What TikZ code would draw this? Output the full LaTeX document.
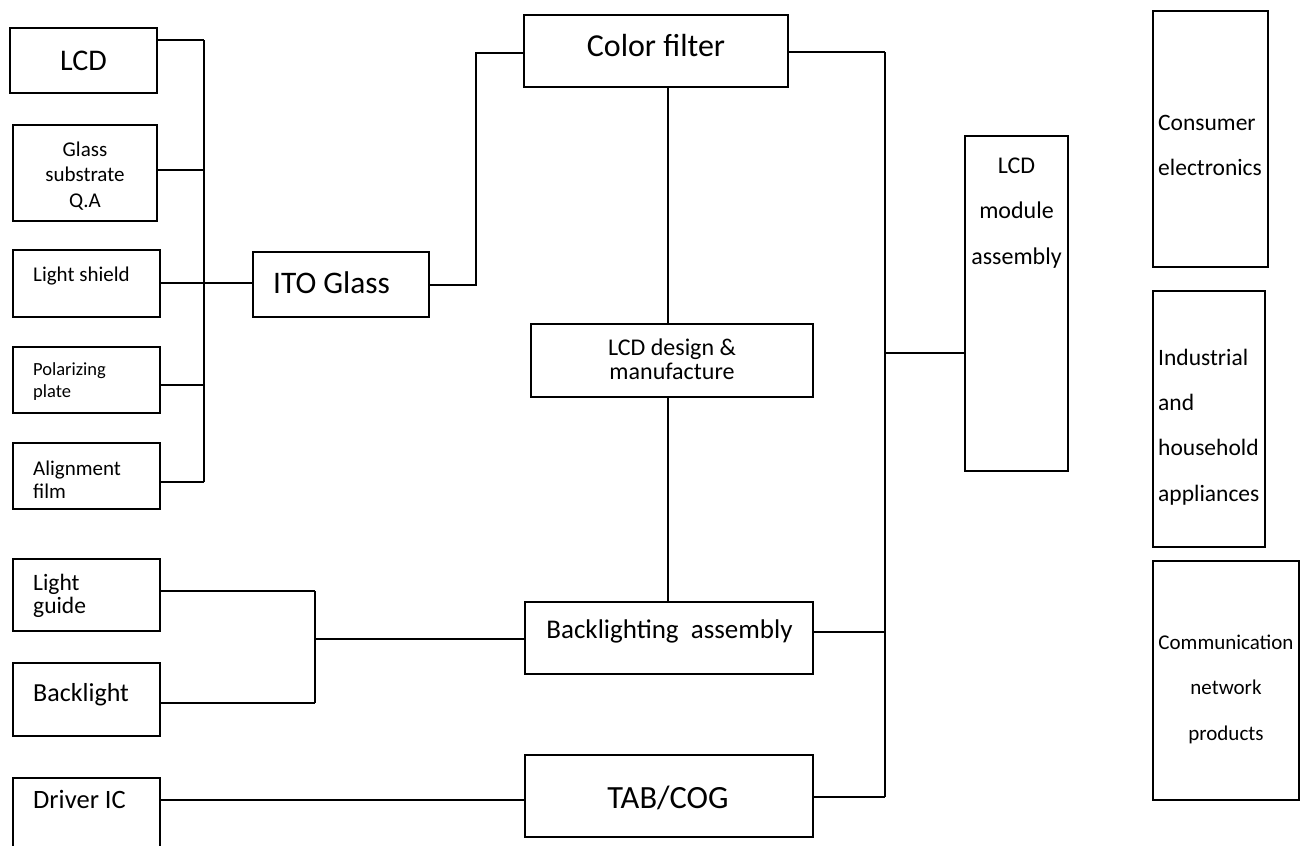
\documentclass[tikz,border=0pt]{standalone}
\usepackage{fontspec}
\setmainfont{Carlito}
\usetikzlibrary{fit}
\begin{document}
\begin{tikzpicture}[x=1pt,y=-1pt,
  box/.style={draw=black, line width=1.6pt, inner sep=0pt, rectangle},
  wire/.style={draw=black, line width=1.6pt},
  thick wire/.style={draw=black, line width=2.3pt},
  txt/.style={inner sep=0pt, anchor=base west},
  ctxt/.style={inner sep=0pt, anchor=base, align=center},
  fs/.style={font=\fontsize{#1}{#1}\selectfont}]
\useasboundingbox (0,0) rectangle (1304,846);
\clip (0,0) rectangle (1304,846);

% boxes
\node[box, fit={(10,28) (157,93)}] (lcd) {};
\node[box, fit={(13,125) (157,221)}] (glass) {};
\node[box, fit={(13,250) (160,317)}] (shield) {};
\node[box, fit={(13,347) (160,413)}] (polar) {};
\node[box, fit={(13,443) (160,509)}] (alignf) {};
\node[box, fit={(13,559) (160,631)}] (guide) {};
\node[box, fit={(13,663) (160,736)}] (backl) {};
\node[box, fit={(13,778) (160,870)}] (driver) {};
\node[box, fit={(253,252) (429,317)}] (ito) {};
\node[box, fit={(524,15) (788,87)}] (cf) {};
\node[box, fit={(531,324) (813,397)}] (design) {};
\node[box, fit={(525,602) (813,674)}] (bla) {};
\node[box, fit={(525,755) (813,837)}] (tab) {};
\node[box, fit={(965,136) (1068,471)}] (module) {};
\node[box, fit={(1153,11) (1268,267)}] (consumer) {};
\node[box, fit={(1153,291) (1265,547)}] (industrial) {};
\node[box, fit={(1153,561) (1299,800)}] (comm) {};

% texts (multi-line nodes: y is the baseline of the last line)
\node[ctxt, fs=30] (lcdT) at (83.5,70) {LCD};
\node[ctxt, font=\fontsize{21}{25.5}\selectfont] (glassT) at (85,207) {Glass\\substrate\\Q.A};
\node[txt, fs=21] (shieldT) at (33,281) {Light shield};
\node[txt, font=\fontsize{18.5}{22}\selectfont, align=left] (polarT) at (33,397) {Polarizing\\plate};
\node[txt, font=\fontsize{21}{23}\selectfont, align=left] (alignT) at (33,498) {Alignment\\film};
\node[txt, font=\fontsize{23.5}{23}\selectfont, align=left] (guideT) at (33,613) {Light\\guide};
\node[txt, fs=26] (backlT) at (33,701) {Backlight};
\node[txt, fs=26.5] (driverT) at (33,808) {Driver IC};
\node[txt, fs=31.4] (itoT) at (273,293) {ITO Glass};
\node[ctxt, fs=32] (cfT) at (656,56) {Color filter};
\node[ctxt, font=\fontsize{24}{23.3}\selectfont] (designT) at (672,379) {LCD design \&\\manufacture};
\node[ctxt, fs=27] (blaT) at (669.5,638) {Backlighting\ \ assembly};
\node[ctxt, fs=32.4] (tabT) at (668,808) {TAB/COG};
\node[ctxt, font=\fontsize{24}{45.5}\selectfont] (moduleT) at (1016.5,264) {LCD\\module\\assembly};
\node[txt, font=\fontsize{23.5}{45}\selectfont, align=left] (consumerT) at (1158,175) {Consumer\\electronics};
\node[txt, font=\fontsize{23.5}{45.3}\selectfont, align=left] (industrialT) at (1158,501) {Industrial\\and\\household\\appliances};
\node[ctxt, font=\fontsize{21}{45.5}\selectfont] (commT) at (1226,740) {Communication\\network\\products};

% left bus
\coordinate (busTop) at (204,40);
\coordinate (busBot) at (204,482);
\draw[wire] (busTop) -- (busBot);
\draw[wire] (lcd.east |- busTop) -- (busTop);
\draw[wire] (glass.east |- 0,170) -- (204,170);
\draw[wire] (shield.east |- 0,283) -- (ito.west |- 0,283);
\draw[thick wire] (polar.east |- 0,385) -- (204,385);
\draw[thick wire] (alignf.east |- busBot) -- (busBot);

% ITO to color filter
\draw[wire] (ito.east |- 0,285) -- (476,285) -- (476,53) -- (cf.west |- 0,53);
\draw[thick wire] (ito.east |- 0,285) -- (476,285);
\draw[thick wire] (476,53) -- (cf.west |- 0,53);

% centre column
\draw[wire] (cf.south -| 668,0) -- (design.north -| 668,0);
\draw[wire] (design.south -| 668,0) -- (bla.north -| 668,0);

% right bus
\coordinate (rTop) at (885,52);
\coordinate (rBot) at (885,797);
\draw[wire] (rTop) -- (rBot);
\draw[thick wire] (cf.east |- rTop) -- (rTop);
\draw[wire] (bla.east |- 0,632) -- (885,632);
\draw[thick wire] (tab.east |- rBot) -- (rBot);
\draw[wire] (885,353) -- (module.west |- 0,353);

% backlight group
\coordinate (bgTop) at (315,591);
\coordinate (bgBot) at (315,703);
\draw[wire] (guide.east |- bgTop) -- (bgTop);
\draw[wire] (backl.east |- bgBot) -- (bgBot);
\draw[thick wire] (bgTop) -- (bgBot);
\draw[wire] (315,639) -- (bla.west |- 0,639);

% driver
\draw[wire] (driver.east |- 0,800) -- (tab.west |- 0,800);
\end{tikzpicture}
\end{document}
